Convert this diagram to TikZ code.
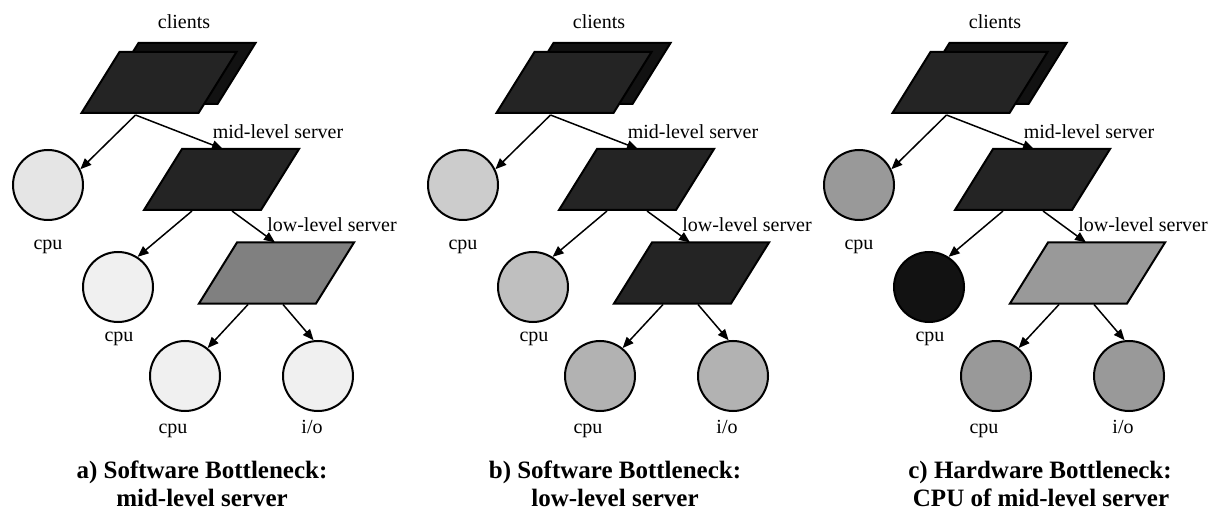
\documentclass[tikz,border=0pt]{standalone}
\usepackage{fontspec}
\setmainfont{Liberation Serif}
\usetikzlibrary{arrows.meta,calc}
\tikzset{
  pbox/.style={rectangle, minimum width=155pt, minimum height=61pt, inner sep=0pt, outer sep=0pt},
  pline/.style={draw=black, line width=2pt, line join=miter},
  proc/.style={circle, draw=black, line width=2pt, minimum size=70pt, inner sep=0pt},
  lbl/.style={font=\fontsize{20}{24}\selectfont, inner sep=0pt, anchor=base},
  captext/.style={font=\bfseries\fontsize{25}{29}\selectfont, inner sep=0pt, anchor=base},
  arr/.style={-{Triangle[length=11pt,width=9pt]}, line width=1.5pt},
}
\newcommand\paranode[3]{%
  \node[pbox] (#1) at (#2) {};
  \draw[pline, fill=#3] (#1.south west) -- ($(#1.north west)+(38,0)$)
    -- (#1.north east) -- ($(#1.south east)+(-38,0)$) -- cycle;}
\newcommand\drawpanel[8]{%
  \begin{scope}[xshift=#2pt]
    \node[lbl] (tcl#1) at (184,29) {clients};
    \paranode{clb#1}{178,73.5}{black!93}
    \paranode{clf#1}{159,82.5}{black!86}
    \node[lbl] (tmid#1) at (278,139) {mid-level server};
    \paranode{mid#1}{221.5,179.5}{black!86}
    \node[lbl] (tlow#1) at (332,232) {low-level server};
    \paranode{low#1}{276.5,273}{#6}
    \node[proc, fill=#3] (ca#1) at (48,185) {};
    \node[proc, fill=#4] (cb#1) at (118,287) {};
    \node[proc, fill=#5] (cc#1) at (185,376) {};
    \node[proc, fill=#7] (io#1) at (318,376) {};
    \node[lbl] (tca#1) at (48,250) {cpu};
    \node[lbl] (tcb#1) at (119,341) {cpu};
    \node[lbl] (tcc#1) at (173,433) {cpu};
    \node[lbl] (tio#1) at (312,433) {i/o};
    \coordinate (os#1) at ($(clf#1.south west)+(54,2)$);
    \coordinate (ms1#1) at ($(mid#1.south west)+(48,1)$);
    \coordinate (ms2#1) at ($(mid#1.south west)+(88,1)$);
    \coordinate (mt#1) at ($(mid#1.north west)+(79,0)$);
    \coordinate (ls1#1) at ($(low#1.south west)+(49,1)$);
    \coordinate (ls2#1) at ($(low#1.south west)+(84,1)$);
    \coordinate (lt#1) at ($(low#1.north west)+(76,0)$);
    \draw[arr] (os#1) -- (ca#1.26);
    \draw[arr] (os#1) -- (mt#1);
    \draw[arr] (ms1#1) -- (cb#1.57);
    \draw[arr] (ms2#1) -- (lt#1);
    \draw[arr] (ls1#1) -- (cc#1.51);
    \draw[arr] (ls2#1) -- (io#1.97);
  \end{scope}}
\begin{document}
\begin{tikzpicture}[x=1pt,y=-1pt]
  \useasboundingbox (0,0) rectangle (1214,510);
  \drawpanel{a}{0}{black!10}{black!6}{black!6}{black!50}{black!6}{}
  \drawpanel{b}{415}{black!20}{black!25}{black!30}{black!86}{black!30}{}
  \drawpanel{c}{811}{black!40}{black!93}{black!40}{black!40}{black!40}{}
  \node[captext] (capa1) at (202,478) {a) Software Bottleneck:};
  \node[captext] (capa2) at (202,506) {mid-level server};
  \node[captext] (capb1) at (615,478) {b) Software Bottleneck:};
  \node[captext] (capb2) at (615,506) {low-level server};
  \node[captext] (capc1) at (1040,478) {c) Hardware Bottleneck:};
  \node[captext] (capc2) at (1041,506) {CPU of mid-level server};
\end{tikzpicture}
\end{document}
